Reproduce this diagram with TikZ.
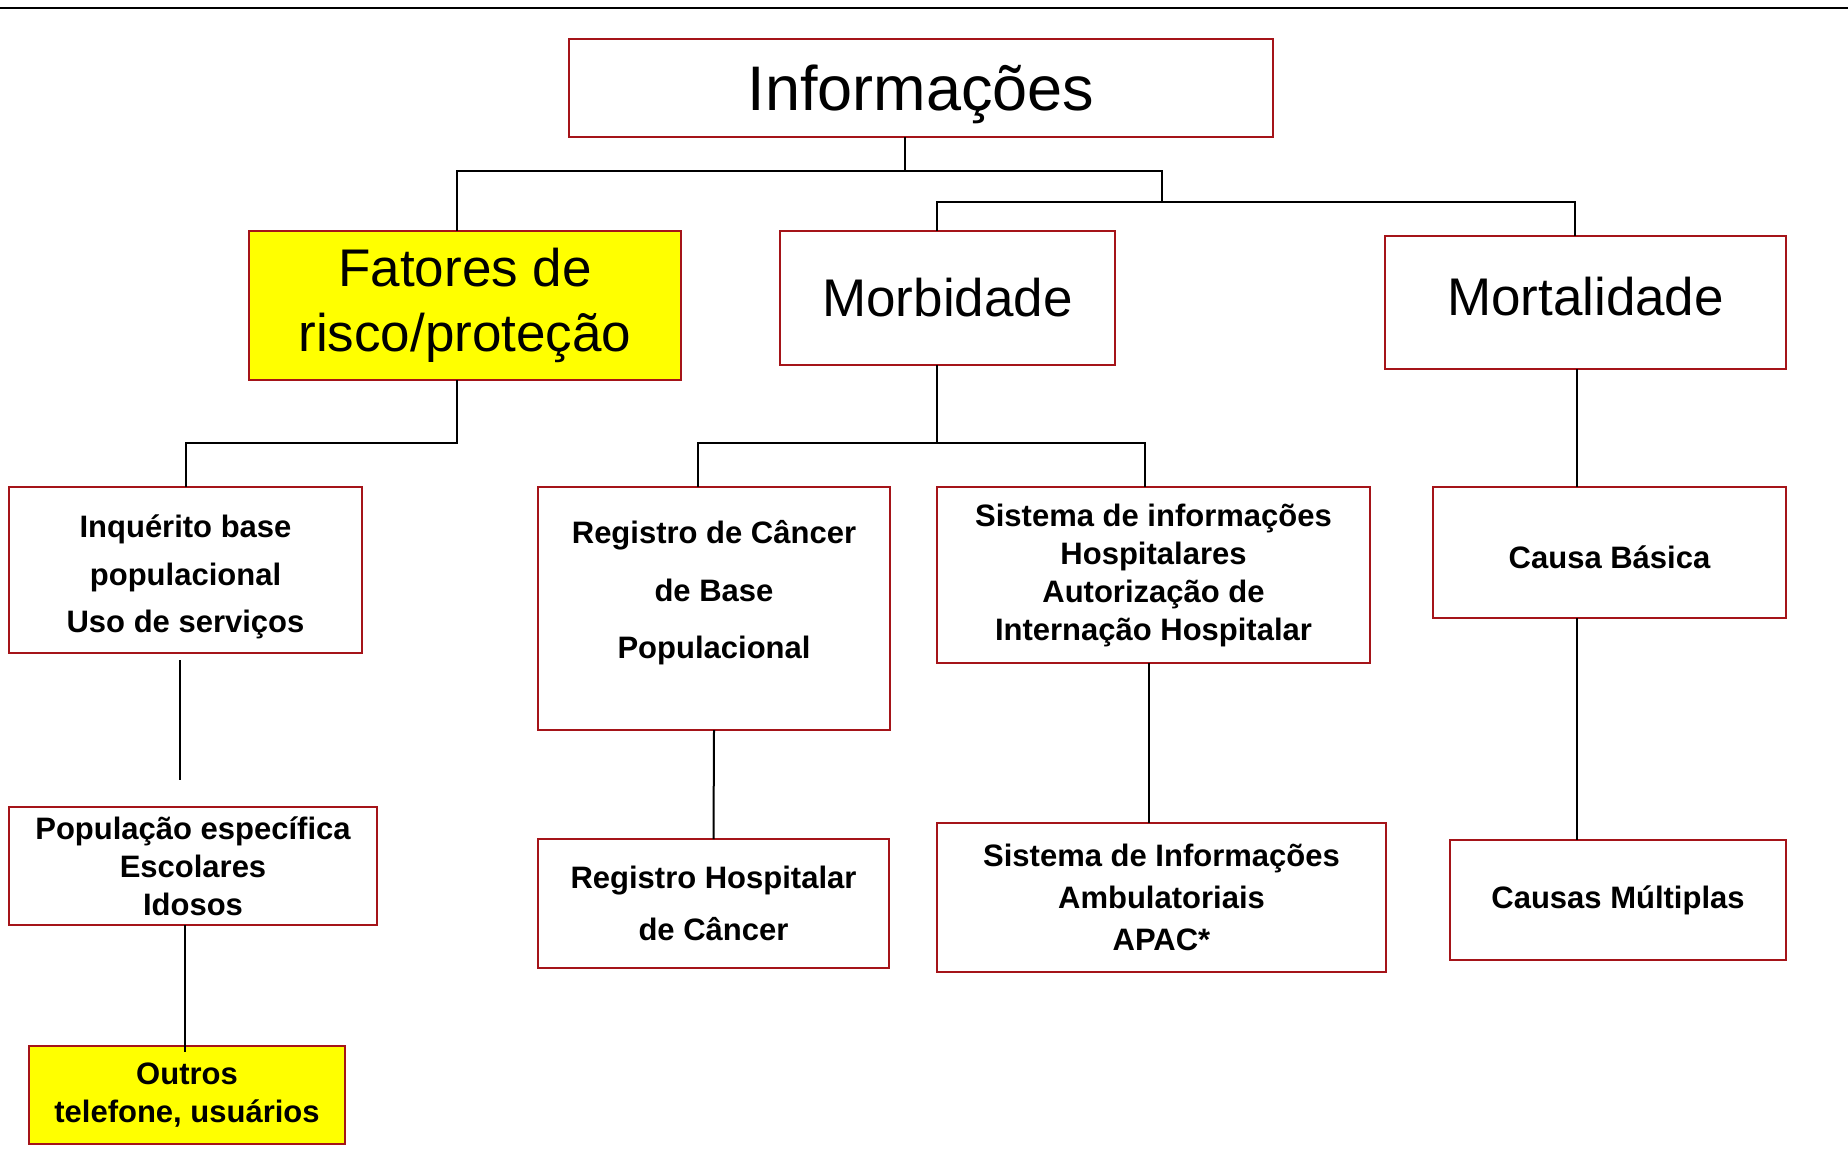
\documentclass[tikz,border=0pt]{standalone}
\usepackage{fontspec}
\setmainfont{Liberation Sans}
\definecolor{boxred}{RGB}{165,20,25}
\definecolor{boxyellow}{RGB}{255,255,0}

\begin{document}
\begin{tikzpicture}[x=1pt, y=-1pt, line cap=rect,
		box/.style={draw=boxred, line width=2pt, inner sep=0pt, align=center},
		big/.style={font=\fontsize{63}{76}\selectfont},
		mid/.style={font=\fontsize{53}{65}\selectfont},
		small/.style={font=\bfseries\fontsize{31}{38}\selectfont},
		hilite/.style={fill=boxyellow},
		conn/.style={line width=2pt, black}]
		
		\useasboundingbox (0,0) rectangle (1848,1152);
		
		% Rule
		\draw[line width=2pt] (0,7.5) -- (1848,7.5);
		
		% Top
		\node[box, big, text depth=0pt, minimum width=704pt, minimum height=98pt] (info) at (921,88) {Informações};
		
		% Second row
		\node[box, mid, hilite, minimum width=432pt, minimum height=149pt] (fat) at (465,305.5) {Fatores de\\risco/proteção};
		\node[box, mid, minimum width=335pt, minimum height=134pt] (morb) at (947.5,298) {Morbidade};
		\node[box, mid, text depth=12pt, minimum width=401pt, minimum height=133pt] (mort) at (1585.5,302.5) {Mortalidade};
		
		% Third row
		\node[box, small, minimum width=353pt, minimum height=166pt] (inq) at (185.5,570) {\mbox{}\\[-1pt]Inquérito base\\[9.5pt]populacional\\[9.5pt]Uso de serviços};
		\node[box, small, minimum width=352pt, minimum height=243pt] (rcbp) at (714,608.5) {Registro de Câncer\\[19.5pt]de Base\\[19.5pt]Populacional\\[0pt]\mbox{}};
		\node[box, small, minimum width=433pt, minimum height=176pt] (sih) at (1153.5,575) {Sistema de informações\\Hospitalares\\Autorização de\\Internação Hospitalar};
		\node[box, small, text height=33pt, minimum width=353pt, minimum height=131pt] (cb) at (1609.5,552.5) {Causa Básica};
		
		% Fourth row
		\node[box, small, minimum width=368pt, minimum height=118pt] (pop) at (193,866) {População específica\\Escolares\\Idosos};
		\node[box, small, minimum width=351pt, minimum height=129pt] (rhc) at (713.5,903.5) {Registro Hospitalar\\[13.7pt]de Câncer};
		\node[box, small, minimum width=449pt, minimum height=149pt] (sia) at (1161.5,897.5) {Sistema de Informações\\[3.7pt]Ambulatoriais\\[3.7pt]APAC*};
		\node[box, small, minimum width=336pt, minimum height=120pt] (cm) at (1618,900) {Causas Múltiplas};
		
		% Bottom
		\node[box, small, hilite, minimum width=316pt, minimum height=98pt] (out) at (187,1095) {Outros\\telefone, usuários};
		
		% Branch points
		\coordinate (b1) at (905,171);
		\coordinate (b1l) at (457,171);
		\coordinate (b1r) at (1162,171);
		\coordinate (b2l) at (937,202);
		\coordinate (b2r) at (1575,202);
		\coordinate (c1) at (457,443);
		\coordinate (c2) at (937,443);
		\coordinate (c2l) at (698,443);
		\coordinate (c2r) at (1145,443);
		\coordinate (c3) at (1577,0);
		\coordinate (c4) at (180,0);
		\coordinate (c5) at (185,0);
		\coordinate (c6) at (1149,0);
		
		% Connectors
		\draw[conn] (info.south -| b1) -- (b1);
		\draw[conn] (fat.north -| b1l) -- (b1l) -- (b1r) -- (b1r |- b2l);
		\draw[conn] (morb.north -| b2l) -- (b2l) -- (b2r) -- (mort.north -| b2r);
		\draw[conn] (fat.south -| c1) -- (c1) -| (inq.north);
		\draw[conn] (morb.south -| c2) -- (c2);
		\draw[conn] (rcbp.north -| c2l) -- (c2l) -- (c2r) -- (sih.north -| c2r);
		\draw[conn] (mort.south -| c3) -- (cb.north -| c3);
		\draw[conn] (cb.south -| c3) -- (cm.north -| c3);
		\draw[conn, shorten <=7pt, shorten >=27pt] (inq.south -| c4) -- (pop.north -| c4);
		\draw[conn, shorten >=-6pt] (pop.south -| c5) -- (out.north -| c5);
		\draw[conn] (rcbp.south) -- (rhc.north);
		\draw[conn] (sih.south -| c6) -- (sia.north -| c6);
	\end{tikzpicture}
\end{document}
